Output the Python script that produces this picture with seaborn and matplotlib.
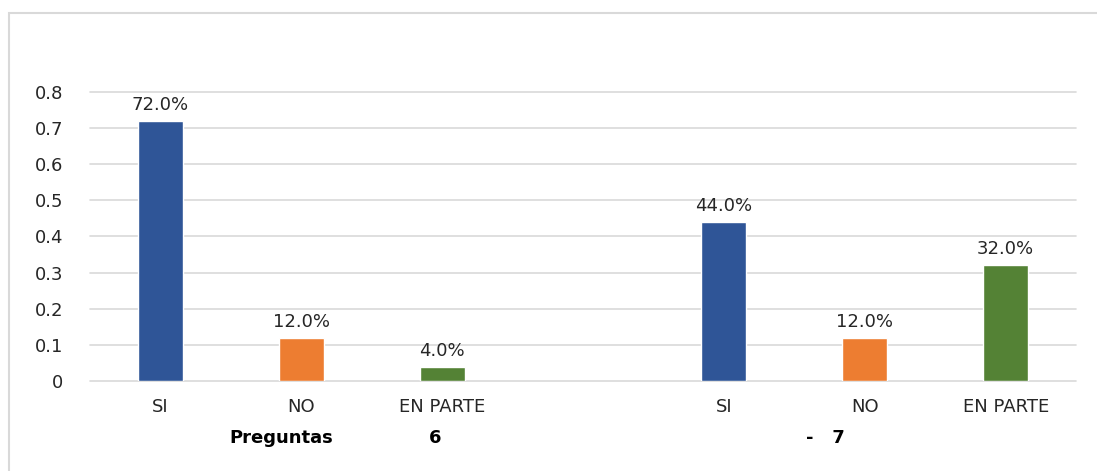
import matplotlib
matplotlib.use("Agg")
import matplotlib.pyplot as plt
import matplotlib.patches as patches
import pandas as pd
import seaborn as sns

# datos
respuestas = ["SI", "NO", "EN PARTE"]
preg6 = [0.72, 0.12, 0.04]
preg7 = [0.44, 0.12, 0.32]
colores = {"SI": "#2F5597", "NO": "#ED7D31", "EN PARTE": "#548235"}
yticks = [0, 0.1, 0.2, 0.3, 0.4, 0.5, 0.6, 0.7, 0.8]
ytick_labels = ["0", "0.1", "0.2", "0.3", "0.4", "0.5", "0.6", "0.7", "0.8"]

df = pd.DataFrame({
    "clave": [r + " 6" for r in respuestas] + [r + " 7" for r in respuestas],
    "respuesta": respuestas * 2,
    "valor": preg6 + preg7,
})
orden = [r + " 6" for r in respuestas] + ["hueco"] + [r + " 7" for r in respuestas]

sns.set_style("white")
plt.rcParams["font.family"] = ["DejaVu Sans"]
fs = 13

fig = plt.figure(figsize=(10.97, 4.71), dpi=100)
ax = fig.add_axes([0.082, 0.191, 0.899, 0.614])

sns.barplot(data=df, x="clave", y="valor", hue="respuesta", order=orden,
            palette=colores, saturation=1, dodge=False, width=0.32,
            legend=False, ax=ax, zorder=3)

# etiquetas de datos
for cont in ax.containers:
    for bar in cont:
        h = bar.get_height()
        if h != h:
            continue
        ax.annotate(f"{h*100:.1f}%", (bar.get_x() + bar.get_width() / 2, h),
                    xytext=(0, 5), textcoords="offset points",
                    ha="center", va="bottom", fontsize=fs, color="#262626")

ax.set_ylim(0, 0.8)
ax.set_xlim(-0.5, 6.5)
ax.set_yticks(yticks)
ax.set_yticklabels(ytick_labels, fontsize=fs, color="#262626")
ax.set_xticks(range(7))
ax.set_xticklabels(respuestas + [""] + respuestas, fontsize=fs, color="#262626")
ax.tick_params(axis="x", length=0, pad=12)
ax.tick_params(axis="y", length=0, pad=19)
ax.yaxis.grid(True, color="#d9d9d9", lw=1.2, zorder=0)
for gl in ax.get_ygridlines():
    gl.set_clip_on(False)
ax.set_axisbelow(True)
for s in ax.spines.values():
    s.set_visible(False)
ax.set_xlabel("")
ax.set_ylabel("")

# etiquetas del segundo nivel
fig.text(281 / 1097, 1 - 438 / 471, "Preguntas", ha="center", va="center",
         fontsize=fs, fontweight="bold", color="#000000")
fig.text(435 / 1097, 1 - 438 / 471, "6", ha="center", va="center",
         fontsize=fs, fontweight="bold", color="#000000")
fig.text(825 / 1097, 1 - 438 / 471, "-   7", ha="center", va="center",
         fontsize=fs, fontweight="bold", color="#000000")

# marco del grafico
marco = patches.Rectangle((9 / 1097, -0.05), 1.2, 1 - 13 / 471 + 0.05,
                          transform=fig.transFigure, fill=False,
                          edgecolor="#d9d9d9", lw=1.5, clip_on=False)
fig.patches.append(marco)

fig.savefig("out.png", dpi=100)
